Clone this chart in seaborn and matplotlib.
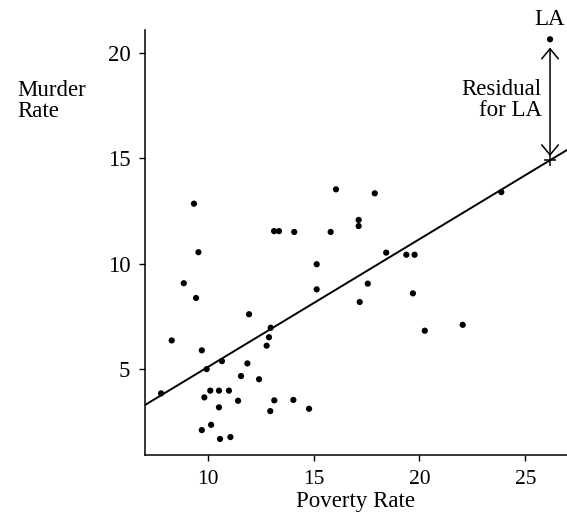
import numpy as np
import pandas as pd
import matplotlib
matplotlib.use("Agg")
import matplotlib.pyplot as plt
import seaborn as sns

# State poverty rates (%) and murder rates (per 100,000)
poverty = [9.36, 13.14, 13.37, 14.09, 15.81, 16.06, 9.57, 15.15, 8.88, 15.15,
           9.46, 11.96, 8.31, 9.73, 12.98, 12.90, 12.79, 10.68, 9.96, 11.88,
           7.81, 11.58, 12.43, 10.13, 10.54, 11.01, 9.85, 11.44, 13.15, 14.05,
           10.54, 12.96, 14.79, 10.17, 9.73, 11.08, 10.59, 17.89, 17.13, 17.13,
           18.43, 19.38, 19.77, 17.56, 17.18, 19.69, 23.86, 20.25, 22.04]
murder = [12.85, 11.55, 11.55, 11.51, 11.51, 13.53, 10.55, 9.98, 9.08, 8.79,
          8.38, 7.61, 6.37, 5.90, 6.97, 6.52, 6.12, 5.39, 5.01, 5.28,
          3.86, 4.68, 4.53, 3.99, 3.99, 3.99, 3.67, 3.51, 3.53, 3.55,
          3.20, 3.02, 3.13, 2.37, 2.12, 1.79, 1.70, 13.34, 12.08, 11.79,
          10.53, 10.43, 10.43, 9.06, 8.19, 8.60, 13.40, 6.83, 7.11]

# Louisiana
la_poverty = 26.16
la_murder = 20.64

# Least-squares prediction line: murder = intercept + slope * poverty
intercept = -0.97
slope = 0.607

x_ticks = [10, 15, 20, 25]
y_ticks = [5, 10, 15, 20]

df = pd.DataFrame({"poverty": poverty + [la_poverty],
                   "murder": murder + [la_murder]})

sns.set_theme(style="ticks")
plt.rcParams["font.family"] = ["Liberation Serif", "DejaVu Serif"]
plt.rcParams["text.color"] = "black"
plt.rcParams["axes.labelcolor"] = "black"

FS = 16.5
TICK_FS = 15.5

fig = plt.figure(figsize=(5.67, 5.20), dpi=100)
ax = fig.add_axes([145 / 567, 65 / 520, 422 / 567, 425 / 520])

ax.set_xlim(7.05, 26.96)
ax.set_ylim(0.94, 21.08)

sns.scatterplot(data=df, x="poverty", y="murder", color="black", s=20,
                marker="o", edgecolor="none", ax=ax, clip_on=False, zorder=3)

# Prediction line across the full horizontal range
xs = np.array(ax.get_xlim())
sns.lineplot(x=xs, y=intercept + slope * xs, color="black", lw=1.4, ax=ax)

predicted_la = intercept + slope * la_poverty
ax.plot([la_poverty], [predicted_la], marker="+", color="black",
        markersize=9, mew=1.1, zorder=4)

# Residual for Louisiana
ax.annotate("", xy=(la_poverty, la_murder), xytext=(la_poverty, predicted_la),
            arrowprops=dict(arrowstyle="<->,head_length=0.6,head_width=0.5",
                            color="black", lw=1.1, shrinkA=3, shrinkB=6,
                            mutation_scale=12))
ax.annotate("LA", xy=(la_poverty, la_murder), xytext=(0, 10),
            textcoords="offset points", ha="center", va="baseline",
            fontsize=FS, annotation_clip=False)
ax.annotate("Residual\nfor LA", xy=(la_poverty, (la_murder + predicted_la) / 2),
            xytext=(-6, 0), textcoords="offset points", ha="right",
            va="center", multialignment="right", fontsize=FS,
            linespacing=1.0, annotation_clip=False)

ax.set_xticks(x_ticks)
ax.set_yticks(y_ticks)
ax.tick_params(axis="both", direction="out", length=4.5, width=1.0,
               colors="black", labelsize=TICK_FS, pad=6)
ax.tick_params(axis="y", labelsize=16.5)

for side in ("top", "right"):
    ax.spines[side].set_visible(False)
for side in ("left", "bottom"):
    ax.spines[side].set_linewidth(1.1)
    ax.spines[side].set_color("black")

ax.set_xlabel("Poverty Rate", fontsize=FS)
ax.xaxis.set_label_coords(0.5, (455 - 501) / 425)
ax.xaxis.label.set_va("center")

ax.set_ylabel("Murder\nRate", fontsize=FS, rotation=0, ha="left",
              va="center", multialignment="left", linespacing=1.0)
ax.yaxis.set_label_coords((17 - 145) / 422, (455 - 101) / 425)

fig.savefig("out.png", dpi=100, facecolor="white")
